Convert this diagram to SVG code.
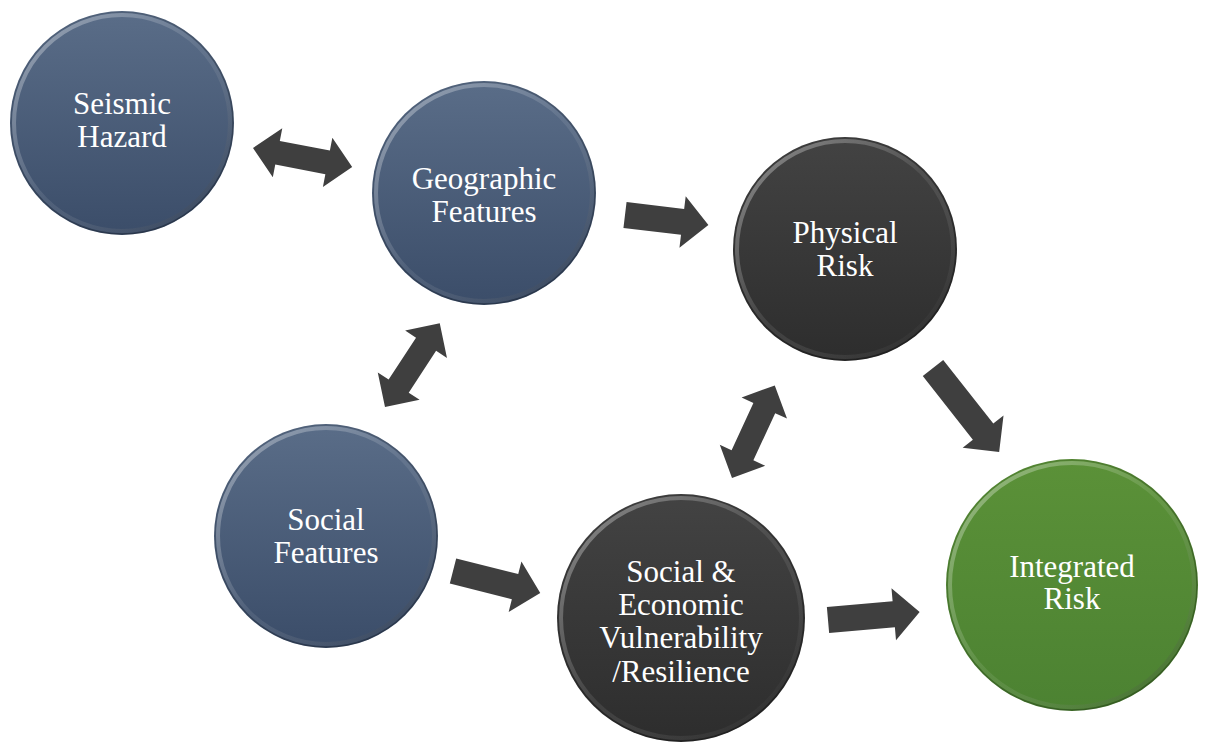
<svg xmlns="http://www.w3.org/2000/svg" width="1205" height="750" viewBox="0 0 1205 750">
<defs>
<linearGradient id="gBlue" x1="0" y1="0" x2="0" y2="1">
<stop offset="0" stop-color="#5a6d88"/><stop offset="1" stop-color="#3b4d69"/>
</linearGradient>
<linearGradient id="gDark" x1="0" y1="0" x2="0" y2="1">
<stop offset="0" stop-color="#434343"/><stop offset="1" stop-color="#2d2d2d"/>
</linearGradient>
<linearGradient id="gGreen" x1="0" y1="0" x2="0" y2="1">
<stop offset="0" stop-color="#5b9138"/><stop offset="1" stop-color="#4c8232"/>
</linearGradient>
<linearGradient id="rim" x1="0" y1="0" x2="1" y2="1">
<stop offset="0" stop-color="#ffffff" stop-opacity="0.4"/>
<stop offset="0.5" stop-color="#ffffff" stop-opacity="0.08"/>
<stop offset="1" stop-color="#000000" stop-opacity="0.25"/>
</linearGradient>
<linearGradient id="edge" x1="0" y1="0" x2="1" y2="1">
<stop offset="0" stop-color="#000000" stop-opacity="0.05"/>
<stop offset="1" stop-color="#000000" stop-opacity="0.35"/>
</linearGradient>
</defs>
<style>
.rim{fill:none;stroke:url(#rim);stroke-width:4}
.edge{fill:none;stroke:url(#edge);stroke-width:1.5}
.lbl{font-family:'Liberation Serif','Times New Roman',serif;font-size:31px;fill:#ffffff;text-anchor:middle}
.arr{fill:#3f3f3f}
</style>
<rect width="1205" height="750" fill="#ffffff"/>
<g id="connectors">
<path class="arr" transform="translate(253,148) rotate(10.9)" d="M0,0 L25,-25 L25,-12 L76,-12 L76,-25 L101,0 L76,25 L76,12 L25,12 L25,25 Z"/>
<path class="arr" transform="translate(625,215) rotate(6.9)" d="M0,-13 L58,-13 L58,-26 L84,0 L58,26 L58,13 L0,13 Z"/>
<path class="arr" transform="translate(385,407) rotate(-56.8)" d="M0,0 L25,-25 L25,-12 L75,-12 L75,-25 L100,0 L75,25 L75,12 L25,12 L25,25 Z"/>
<path class="arr" transform="translate(732,478) rotate(-65.2)" d="M0,0 L25,-25 L25,-12 L77,-12 L77,-25 L102,0 L77,25 L77,12 L25,12 L25,25 Z"/>
<path class="arr" transform="translate(933,368) rotate(51.8)" d="M0,-13 L81,-13 L81,-26 L107,0 L81,26 L81,13 L0,13 Z"/>
<path class="arr" transform="translate(453,571) rotate(14.2)" d="M0,-13 L64,-13 L64,-26 L90,0 L64,26 L64,13 L0,13 Z"/>
<path class="arr" transform="translate(828,620) rotate(-5)" d="M0,-13 L66,-13 L66,-26 L92,0 L66,26 L66,13 L0,13 Z"/>
</g>
<g id="seismic">
<circle cx="122" cy="123" r="112" fill="url(#gBlue)"/>
<circle class="rim" cx="122" cy="123" r="108"/>
<circle class="edge" cx="122" cy="123" r="111"/>
<text class="lbl" x="122" y="114">Seismic</text>
<text class="lbl" x="122" y="147">Hazard</text>
</g>
<g id="geographic">
<circle cx="484" cy="193" r="112" fill="url(#gBlue)"/>
<circle class="rim" cx="484" cy="193" r="108"/>
<circle class="edge" cx="484" cy="193" r="111"/>
<text class="lbl" x="484" y="189">Geographic</text>
<text class="lbl" x="484" y="222">Features</text>
</g>
<g id="physical">
<circle cx="845" cy="249" r="112" fill="url(#gDark)"/>
<circle class="rim" cx="845" cy="249" r="108"/>
<circle class="edge" cx="845" cy="249" r="111"/>
<text class="lbl" x="845" y="243">Physical</text>
<text class="lbl" x="845" y="276">Risk</text>
</g>
<g id="social">
<circle cx="326" cy="536" r="112" fill="url(#gBlue)"/>
<circle class="rim" cx="326" cy="536" r="108"/>
<circle class="edge" cx="326" cy="536" r="111"/>
<text class="lbl" x="326" y="530">Social</text>
<text class="lbl" x="326" y="563">Features</text>
</g>
<g id="vulnerability">
<circle cx="681" cy="618" r="124" fill="url(#gDark)"/>
<circle class="rim" cx="681" cy="618" r="120"/>
<circle class="edge" cx="681" cy="618" r="123"/>
<text class="lbl" x="681" y="582">Social &amp;</text>
<text class="lbl" x="681" y="615">Economic</text>
<text class="lbl" x="681" y="648">Vulnerability</text>
<text class="lbl" x="681" y="682">/Resilience</text>
</g>
<g id="integrated">
<circle cx="1072" cy="585" r="126" fill="url(#gGreen)"/>
<circle class="rim" cx="1072" cy="585" r="122"/>
<circle class="edge" cx="1072" cy="585" r="125"/>
<text class="lbl" x="1072" y="577">Integrated</text>
<text class="lbl" x="1072" y="609">Risk</text>
</g>
</svg>
